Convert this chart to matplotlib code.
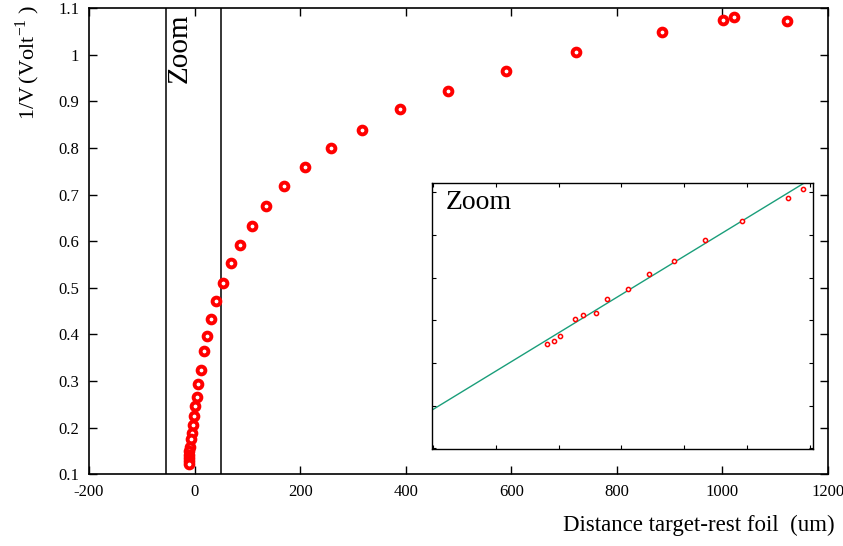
"""
1/V vs distance target-rest foil, with zoom inset
"""
import numpy as np
import matplotlib
matplotlib.use('Agg')
import matplotlib.pyplot as plt

plt.rcParams['font.family'] = ['Liberation Serif', 'DejaVu Serif']
plt.rcParams['mathtext.fontset'] = 'custom'
plt.rcParams['mathtext.rm'] = 'Liberation Serif'
plt.rcParams['axes.unicode_minus'] = False

# main data (um, 1/V)
distance = [1123, 1021.5, 1001, 886, 722.5, 590, 480, 389.5, 317, 258,
            209, 169.5, 135, 109.5, 87, 69.5, 54.5, 41.5, 31.5, 24,
            17, 12, 7, 4.5, 1.3, -1.1, -3, -5.3, -5.9, -9.1,
            -11, -10.6, -11, -11.3, -11.3]
inv_volt = [1.072, 1.080, 1.074, 1.0485, 1.0056, 0.965, 0.9227, 0.8828, 0.8384, 0.7998,
            0.759, 0.718, 0.675, 0.6325, 0.5917, 0.5538, 0.5109, 0.4717, 0.4324, 0.3966,
            0.3644, 0.3237, 0.2943, 0.2664, 0.2454, 0.224, 0.2047, 0.1886, 0.175, 0.1585,
            0.150, 0.1414, 0.1339, 0.1275, 0.1221]

# zoom region
zoom_left = -55
zoom_right = 50

# inset data (arbitrary units)
zoom_x = [1.814, 1.920, 2.021, 2.255, 2.383, 2.601, 2.777, 3.101, 3.441, 3.846,
          4.340, 4.926, 5.649, 5.888]
zoom_y = [2.445, 2.523, 2.641, 3.031, 3.133, 3.164, 3.492, 3.734, 4.078, 4.398,
          4.883, 5.336, 5.859, 6.086]
fit_slope = 0.896
fit_intercept = 0.917

fig = plt.figure(figsize=(8.43, 5.46), dpi=100)
ax = fig.add_axes([89 / 843, (546 - 474.3) / 546, 739 / 843, 466.3 / 546])

ax.plot(distance, inv_volt, 'o', color='red', markerfacecolor='white',
        markeredgecolor='red', markersize=5.6, markeredgewidth=2.8, zorder=3)
ax.axvline(zoom_left, color='black', lw=1.1)
ax.axvline(zoom_right, color='black', lw=1.1)
ax.text(zoom_left + 3, 1.088, 'Zoom', rotation=90,
        ha='left', va='top', fontsize=21)

ax.set_xlim(-200, 1200)
ax.set_ylim(0.1, 1.1)
ax.set_xticks(np.arange(-200, 1201, 200))
ax.set_yticks([0.1, 0.2, 0.3, 0.4, 0.5, 0.6, 0.7, 0.8, 0.9, 1, 1.1])
ax.set_yticklabels(['0.1', '0.2', '0.3', '0.4', '0.5', '0.6', '0.7', '0.8', '0.9', '1', '1.1'])
ax.tick_params(direction='in', length=6, width=1, top=True, right=True,
               labelsize=12, pad=7)
for s in ax.spines.values():
    s.set_linewidth(1.2)

ax.set_ylabel('1/V$\\,$(Volt$^{-1}$ )', fontsize=16)
ax.yaxis.set_label_coords(-0.064, 0.884)
fig.text(835 / 843, 1 - 525 / 546, 'Distance target-rest foil  (um)',
         ha='right', va='center', fontsize=16.5)

# 拡大図
axin = fig.add_axes([432 / 843, (546 - 449.3) / 546, 381.3 / 843, 266 / 546])
axin.set_xlim(-0.02, 6.06)
axin.set_ylim(-0.02, 6.21)
xs = np.array(axin.get_xlim())
axin.plot(xs, fit_intercept + fit_slope * xs, color='#1a9e7a', lw=1)
axin.plot(zoom_x, zoom_y, 'o', markerfacecolor='white', markeredgecolor='red',
          markersize=3, markeredgewidth=1.1)
axin.set_xticks(range(0, 7))
axin.set_yticks(range(0, 7))
axin.tick_params(direction='in', length=3, width=0.8, top=True, right=True,
                 labelbottom=False, labelleft=False)
for s in axin.spines.values():
    s.set_linewidth(1.0)
axin.text(0.035, 0.975, 'Zoom', transform=axin.transAxes, ha='left', va='top',
          fontsize=20)

fig.savefig('out.png', dpi=100)
